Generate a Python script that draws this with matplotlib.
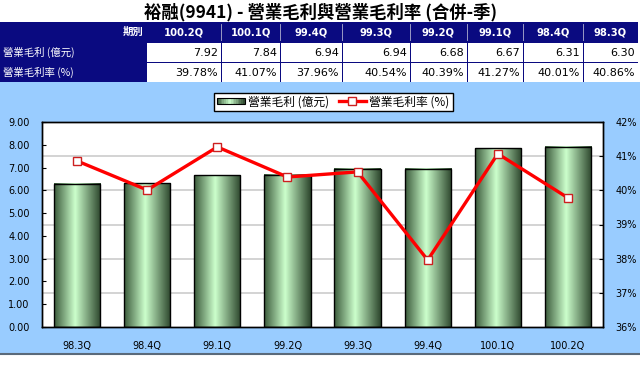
import numpy as np
import matplotlib
matplotlib.use('Agg')
import matplotlib.pyplot as plt
from matplotlib.patches import Rectangle
from matplotlib.legend_handler import HandlerBase
from matplotlib.lines import Line2D
from matplotlib.colors import LinearSegmentedColormap
from matplotlib.ticker import FuncFormatter

plt.rcParams['font.family'] = ['DejaVu Sans', 'Noto Sans CJK TC']
CJK = ['Noto Sans CJK TC', 'DejaVu Sans']

# ---- data ----
categories = ['98.3Q', '98.4Q', '99.1Q', '99.2Q', '99.3Q', '99.4Q', '100.1Q', '100.2Q']
gross_profit = [6.30, 6.31, 6.67, 6.68, 6.94, 6.94, 7.84, 7.92]          # 億元
gross_margin = [40.86, 40.01, 41.27, 40.39, 40.54, 37.96, 41.07, 39.78]  # %
title = '裕融(9941) - 營業毛利與營業毛利率 (合併-季)'
row_labels = ['營業毛利 (億元)', '營業毛利率 (%)']
header_label = '期別'
legend_labels = ['營業毛利 (億元)', '營業毛利率 (%)']
left_ticks = [0, 1, 2, 3, 4, 5, 6, 7, 8, 9]
right_ticks = [36, 37, 38, 39, 40, 41, 42]

# ---- layout ----
W, H = 640, 374
NAVY = '#0a0a80'
BLUE = '#99ccff'
fig = plt.figure(figsize=(W / 100, H / 100), dpi=100)
fig.patch.set_facecolor('white')

bg = fig.add_axes([0, 0, 1, 1], zorder=-1)
bg.set_xlim(0, W)
bg.set_ylim(H, 0)
bg.axis('off')

# chart background band
bg.add_patch(Rectangle((0, 82), W, 271, facecolor=BLUE, edgecolor='none'))
bg.plot([0, W], [354, 354], color='#5a6a7a', lw=1.5)

# title
bg.text(321, 12, title, ha='center', va='center', fontsize=12.5, fontweight='bold',
        family=CJK, color='black')

# table
col_edges = [146, 221, 280, 342, 410, 467, 523, 583, 638]
row_edges = [22, 42, 62, 82]
bg.add_patch(Rectangle((0, row_edges[0]), col_edges[-1], row_edges[-1] - row_edges[0],
                       facecolor=NAVY, edgecolor='none'))
tbl_cats = categories[::-1]
tbl_profit = gross_profit[::-1]
tbl_margin = gross_margin[::-1]
bg.text(col_edges[0] - 3, 32, header_label, ha='right', va='center', color='white',
        fontsize=7.5, fontweight='bold', family=CJK)
for i, lab in enumerate(row_labels):
    yc = (row_edges[i + 1] + row_edges[i + 2]) / 2
    bg.text(3, yc, lab, ha='left', va='center', color='white', fontsize=7.5, family=CJK)
for j in range(len(tbl_cats)):
    x0, x1 = col_edges[j], col_edges[j + 1]
    bg.text((x0 + x1) / 2, 32, tbl_cats[j], ha='center', va='center', color='white',
            fontsize=7.2, fontweight='bold')
    if j > 0:
        bg.plot([x0, x0], [row_edges[0] + 2, row_edges[1] - 2], color='#b0b0d0', lw=0.6)
    for i, txt in enumerate([f'{tbl_profit[j]:.2f}', f'{tbl_margin[j]:.2f}%']):
        y0, y1 = row_edges[i + 1], row_edges[i + 2]
        bg.add_patch(Rectangle((x0 + 0.5, y0 + 0.5), x1 - x0 - 1, y1 - y0 - 1,
                               facecolor='white', edgecolor='none'))
        bg.text(x1 - 3, (y0 + y1) / 2 + 0.5, txt, ha='right', va='center', color='black',
                fontsize=8)

# ---- main chart ----
L, R, T, B = 42, 603, 122, 327
ax = fig.add_axes([L / W, 1 - B / H, (R - L) / W, (B - T) / H])
ax.set_facecolor('white')
x = np.arange(len(categories))
cmap = LinearSegmentedColormap.from_list('g', [(0, '#3b5a3b'), (0.45, '#ccffcc'), (1, '#2c452c')])
grad = np.linspace(0, 1, 128).reshape(1, -1)

bars = ax.bar(x, gross_profit, width=0.66, facecolor='none', edgecolor='black', lw=1, zorder=3)
for b in bars:
    x0, w, h = b.get_x(), b.get_width(), b.get_height()
    ax.imshow(grad, cmap=cmap, extent=[x0, x0 + w, 0, h], aspect='auto', zorder=2,
              interpolation='bilinear')
ax.set_xlim(-0.5, len(categories) - 0.5)
ax.set_ylim(left_ticks[0], left_ticks[-1])
ax.set_aspect('auto')
ax.set_yticks(left_ticks)
ax.yaxis.set_major_formatter(FuncFormatter(lambda v, p: f'{v:.2f}'))
ax.set_xticks(x)
ax.set_xticklabels(categories)
ax.tick_params(axis='y', direction='in', length=3, pad=9, labelsize=7)
ax.tick_params(axis='x', length=0, pad=10, labelsize=7)
for s in ax.spines.values():
    s.set_color('black')
    s.set_linewidth(1)

ax2 = ax.twinx()
ax2.set_ylim(right_ticks[0], right_ticks[-1])
ax2.set_yticks(right_ticks)
ax2.yaxis.set_major_formatter(FuncFormatter(lambda v, p: f'{v:.0f}%'))
ax2.tick_params(axis='y', direction='in', length=3, pad=9, labelsize=7)
for s in ax2.spines.values():
    s.set_color('black')
    s.set_linewidth(1)

# gridlines at secondary-axis ticks, drawn behind bars
lo, hi = right_ticks[0], right_ticks[-1]
for t in right_ticks[1:-1]:
    yv = (t - lo) / (hi - lo) * (left_ticks[-1] - left_ticks[0]) + left_ticks[0]
    ax.axhline(yv, color='#cccccc', lw=1.2, zorder=1)

ax2.plot(x, gross_margin, color='#ff0000', lw=2.4, marker='s', markersize=6,
         markerfacecolor='white', markeredgecolor='#cc2020', markeredgewidth=1, zorder=5)


class GradHandler(HandlerBase):
    def create_artists(self, legend, orig_handle, xdescent, ydescent, width, height,
                       fontsize, trans):
        arts = []
        n = 16
        x0, y0 = -xdescent, -ydescent + height * 0.15
        hh = height * 0.7
        for i in range(n):
            arts.append(Rectangle((x0 + width * i / n, y0), width / n + 0.3, hh,
                                  facecolor=cmap((i + 0.5) / n), edgecolor='none',
                                  transform=trans))
        arts.append(Rectangle((x0, y0), width, hh, facecolor='none', edgecolor='black',
                              lw=0.8, transform=trans))
        return arts


proxy = Rectangle((0, 0), 1, 1)
line_h = Line2D([], [], color='#ff0000', lw=2.4, marker='s', markersize=6,
                markerfacecolor='white', markeredgecolor='#cc2020')
leg = fig.legend([proxy, line_h], legend_labels, handler_map={proxy: GradHandler()},
                 loc='center', bbox_to_anchor=(333.5 / W, 1 - 102 / H), ncol=2,
                 frameon=True, fancybox=False, edgecolor='black', framealpha=1,
                 prop={'family': CJK, 'size': 8.5}, borderpad=0.25, handlelength=2.3,
                 columnspacing=0.8, handletextpad=0.3, borderaxespad=0)
leg.get_frame().set_linewidth(1)

fig.savefig('out.png', dpi=100)
